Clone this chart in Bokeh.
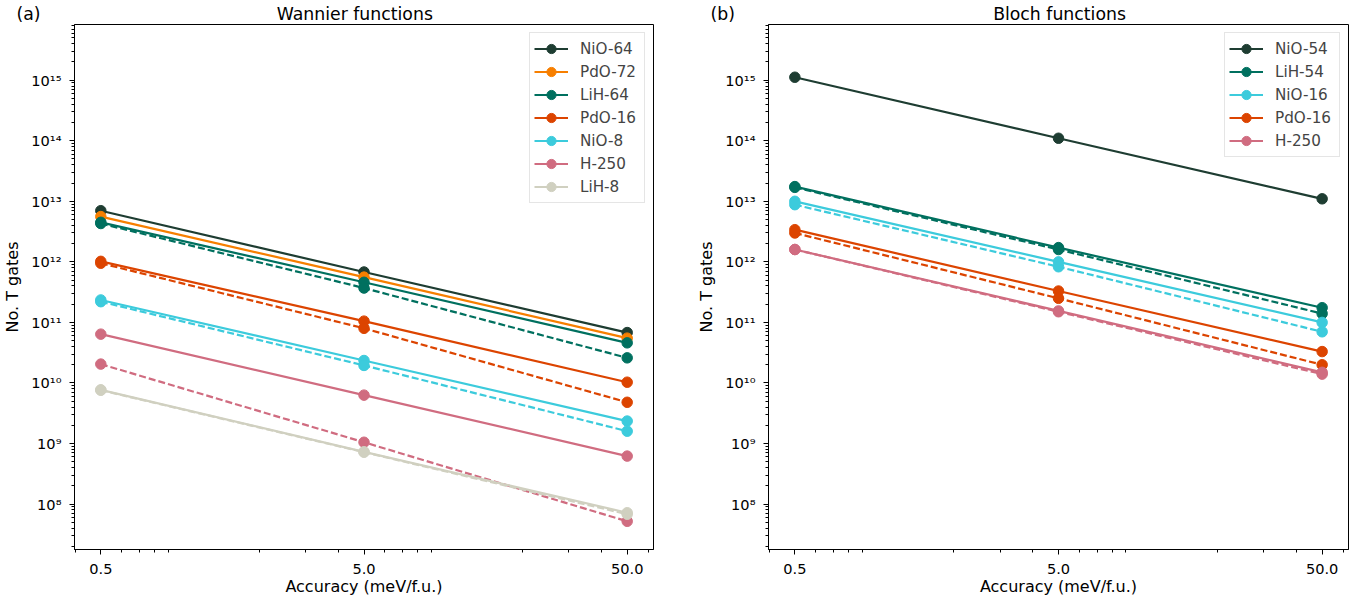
import numpy as np
from bokeh.plotting import figure
from bokeh.layouts import row
from bokeh.models import (Range1d, FixedTicker, CustomJSTickFormatter, Legend,
                          LegendItem)
from bokeh.embed import file_html
from bokeh.resources import INLINE

FONT = "DejaVu Sans"
TICK_FS = "14.6px"
LABEL_FS = "16px"
LEGEND_FS = "15.2px"
TITLE_FS = "17.3px"
NBSP = "\u00a0"

accuracy = [0.5, 5.0, 50.0]

# ---- (a) Wannier functions ----
w_names = ["NiO-64", "PdO-72", "LiH-64", "PdO-16", "NiO-8", "H-250", "LiH-8"]
w_colors = ["#1e3d32", "#f77f00", "#00705f", "#dc4400", "#3ccbdc", "#d06c80", "#d0d0c0"]
w_solid = [
    [7.0e12, 6.8e11, 6.8e10],
    [5.6e12, 5.6e11, 5.5e10],
    [4.5e12, 4.6e11, 4.6e10],
    [1.02e12, 1.05e11, 1.03e10],
    [2.35e11, 2.35e10, 2.35e9],
    [6.4e10, 6.3e9, 6.2e8],
    [7.7e9, 7.3e8, 7.2e7],
]
w_dashed = [
    None,
    None,
    [4.3e12, 3.7e11, 2.6e10],
    [9.5e11, 8.0e10, 4.8e9],
    [2.2e11, 1.95e10, 1.6e9],
    [2.05e10, 1.05e9, 5.2e7],
    [7.6e9, 7.2e8, 6.8e7],
]

# ---- (b) Bloch functions ----
b_names = ["NiO-54", "LiH-54", "NiO-16", "PdO-16", "H-250"]
b_colors = ["#1e3d32", "#00705f", "#3ccbdc", "#dc4400", "#d06c80"]
b_solid = [
    [1.12e15, 1.1e14, 1.1e13],
    [1.75e13, 1.72e12, 1.75e11],
    [1.0e13, 1.0e12, 1.0e11],
    [3.4e12, 3.3e11, 3.3e10],
    [1.6e12, 1.55e11, 1.5e10],
]
b_dashed = [
    None,
    [1.7e13, 1.6e12, 1.4e11],
    [8.8e12, 8.3e11, 7.0e10],
    [3.0e12, 2.5e11, 2.0e10],
    [1.6e12, 1.5e11, 1.4e10],
]

ylog_min, ylog_max = 7.25, 15.92
y_major = [10.0 ** e for e in range(8, 16)]
y_minor = [k * 10.0 ** e for e in range(7, 16) for k in range(2, 10)]
x_minor = [k * 10.0 ** e for e in range(-1, 2) for k in range(2, 10)]

sup_js = """
const sup = {"0":"\u2070","1":"\u00b9","2":"\u00b2","3":"\u00b3","4":"\u2074",
             "5":"\u2075","6":"\u2076","7":"\u2077","8":"\u2078","9":"\u2079","-":"\u207b"};
const e = Math.round(Math.log10(tick));
return "10" + String(e).split("").map(c => sup[c]).join("");
"""
x_js = "return tick.toFixed(1);"


def make_panel(title, tag, gap, names, colors, solid, dashed, fw, bl, br):
    lx0 = np.log10(accuracy[0]) - 0.1
    lx1 = np.log10(accuracy[-1]) + 0.1
    p = figure(frame_width=fw, frame_height=525,
               x_axis_type="log", y_axis_type="log",
               x_range=Range1d(10 ** lx0, 10 ** lx1),
               y_range=Range1d(10 ** ylog_min, 10 ** ylog_max),
               output_backend="svg", toolbar_location=None,
               min_border_left=bl, min_border_right=br,
               min_border_top=17, min_border_bottom=40,
               title=tag + NBSP * gap + title)
    p.title.align = "left"
    p.title.offset = -58
    p.title.text_font = FONT
    p.title.text_font_size = TITLE_FS
    p.title.text_font_style = "normal"
    p.title.text_color = "black"
    p.title.standoff = 2
    p.grid.visible = False
    p.outline_line_color = "black"
    p.outline_line_alpha = 1
    p.outline_line_width = 1

    p.xaxis.ticker = FixedTicker(ticks=accuracy, minor_ticks=x_minor)
    p.xaxis.formatter = CustomJSTickFormatter(code=x_js)
    p.yaxis.ticker = FixedTicker(ticks=y_major, minor_ticks=y_minor)
    p.yaxis.formatter = CustomJSTickFormatter(code=sup_js)
    for ax in (p.xaxis[0], p.yaxis[0]):
        ax.major_tick_out = 5
        ax.major_tick_in = 0
        ax.minor_tick_out = 3
        ax.minor_tick_in = 0
        ax.major_tick_line_color = "black"
        ax.minor_tick_line_color = "black"
        ax.axis_line_color = "black"
        ax.major_label_text_font = FONT
        ax.major_label_text_font_size = TICK_FS
        ax.major_label_text_color = "black"
        ax.axis_label_text_font = FONT
        ax.axis_label_text_font_size = LABEL_FS
        ax.axis_label_text_font_style = "normal"
        ax.axis_label_text_color = "black"
    p.xaxis.major_label_standoff = 9
    p.yaxis.major_label_standoff = 8
    p.xaxis.axis_label = "Accuracy (meV/f.u.)"
    p.xaxis.axis_label_standoff = 0
    p.yaxis.axis_label = "No. T gates"
    p.yaxis.axis_label_standoff = 6

    items = []
    for name, col, s, d in zip(names, colors, solid, dashed):
        r1 = p.line(accuracy, s, line_color=col, line_width=2.2)
        r2 = p.scatter(accuracy, s, size=10.5, marker="circle",
                       fill_color=col, line_color=col)
        items.append(LegendItem(label=name, renderers=[r1, r2]))
        if d is not None:
            p.line(accuracy, d, line_color=col, line_width=2.2, line_dash="7 3")
            p.scatter(accuracy, d, size=10.5, marker="circle",
                      fill_color=col, line_color=col)

    leg = Legend(items=items, location="top_right", margin=8, padding=4,
                 spacing=0, glyph_width=34, glyph_height=23, label_height=23,
                 label_width=60, label_standoff=12, label_text_font=FONT,
                 label_text_font_size=LEGEND_FS, border_line_color="#cccccc",
                 border_line_width=1, background_fill_alpha=0.8)
    p.add_layout(leg)
    return p


p1 = make_panel("Wannier functions", "(a)", 43, w_names, w_colors, w_solid,
                w_dashed, 579, 70, 31)
p2 = make_panel("Bloch functions", "(b)", 47, b_names, b_colors, b_solid,
                b_dashed, 580, 84, 9)

layout = row(p1, p2)
open("out.html", "w").write(file_html(layout, INLINE))
